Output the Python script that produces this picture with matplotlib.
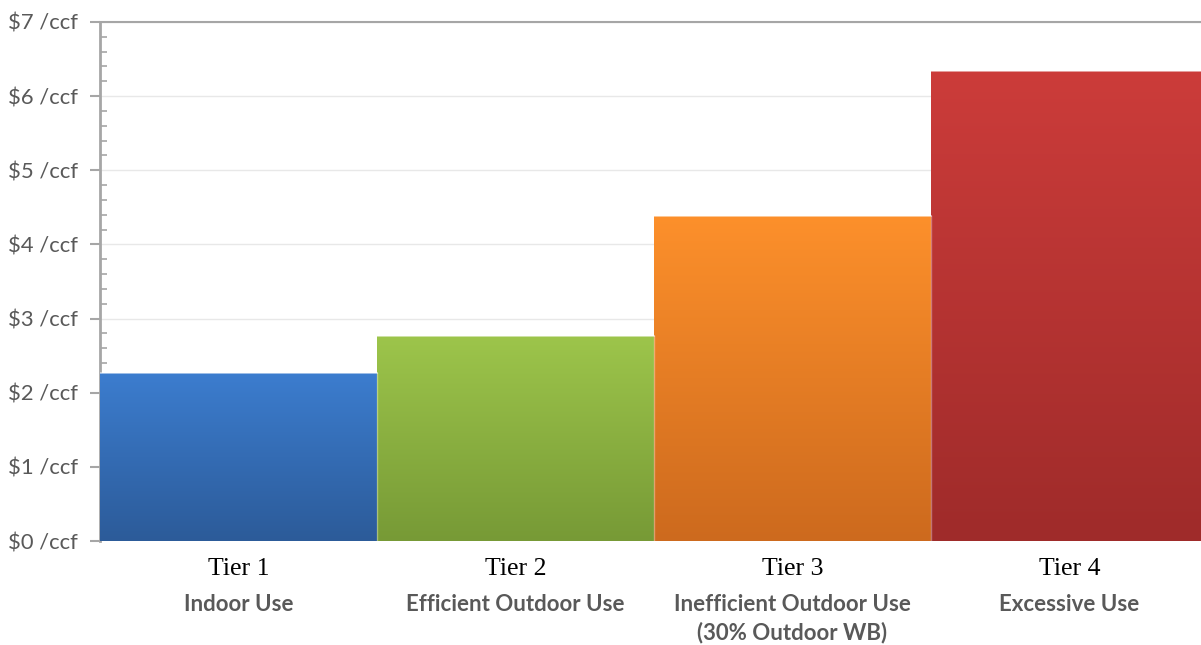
import matplotlib.pyplot as plt
import numpy as np
from matplotlib.colors import LinearSegmentedColormap
from matplotlib.ticker import MultipleLocator, FuncFormatter

tiers = ['Tier 1', 'Tier 2', 'Tier 3', 'Tier 4']
uses = ['Indoor Use', 'Efficient Outdoor Use',
        'Inefficient Outdoor Use\n(30% Outdoor WB)', 'Excessive Use']
rates = [2.27, 2.77, 4.39, 6.34]
top_colors = ['#3c7dcf', '#9dc54b', '#fd902b', '#cc3c3a']
bottom_colors = ['#2c5b99', '#779a36', '#cd6a1e', '#9f2b2a']

fig = plt.figure(figsize=(12.01, 6.45), dpi=100)
ax = fig.add_axes([100/1201, 1 - 541/645, 1101/1201, (541 - 22)/645])

x = np.arange(len(tiers))
bars = ax.bar(x, rates, width=1.0, color='none', edgecolor='none', zorder=3)

# gradient fill, light on top -> dark at the bottom
grad = np.linspace(0, 1, 256).reshape(-1, 1)
for b, c_top, c_bot in zip(bars, top_colors, bottom_colors):
    cmap = LinearSegmentedColormap.from_list('g', [c_bot, c_top])
    x0, w, h = b.get_x(), b.get_width(), b.get_height()
    im = ax.imshow(grad, cmap=cmap, origin='lower', aspect='auto',
                   extent=[x0, x0 + w, 0, h], zorder=3)
    im.set_clip_path(b)
    ax.plot([x0, x0 + w], [h, h], color='white', lw=1.2, alpha=0.6, zorder=4)
    ax.plot([x0 + w, x0 + w], [0, h], color='white', lw=1.0, alpha=0.35, zorder=4)

ax.set_xlim(-0.5, -0.5 + 1101/277)
ax.set_ylim(0, 7)

ax.yaxis.set_major_locator(MultipleLocator(1))
ax.yaxis.set_minor_locator(MultipleLocator(0.2))
ax.yaxis.set_major_formatter(FuncFormatter(lambda v, p: '$%d /ccf' % v))
ax.tick_params(axis='y', which='major', direction='out', length=7, width=1.5,
               color='#a6a6a6', labelsize=15.8, labelcolor='#595959', pad=9)
ax.tick_params(axis='y', which='minor', direction='in', length=5, width=1.2,
               color='#a6a6a6')
for lab in ax.get_yticklabels():
    lab.set_fontfamily('Lato')

ax.grid(axis='y', which='major', color='#e8e8e8', lw=1, zorder=0)
ax.set_xticks([])

for s in ['right', 'bottom']:
    ax.spines[s].set_visible(False)
ax.spines['left'].set_color('#a6a6a6')
ax.spines['left'].set_linewidth(2)
ax.spines['top'].set_color('#a6a6a6')
ax.spines['top'].set_linewidth(1.5)

for xi, t, u in zip(x, tiers, uses):
    ax.text(xi, -0.23, t, ha='center', va='top', fontsize=18.5,
            family='Liberation Serif', color='black')
    ax.text(xi, -0.72, u, ha='center', va='top', fontsize=16,
            family='Lato', fontweight='bold', color='#595959', linespacing=1.35)

fig.savefig('out.png', dpi=100)
